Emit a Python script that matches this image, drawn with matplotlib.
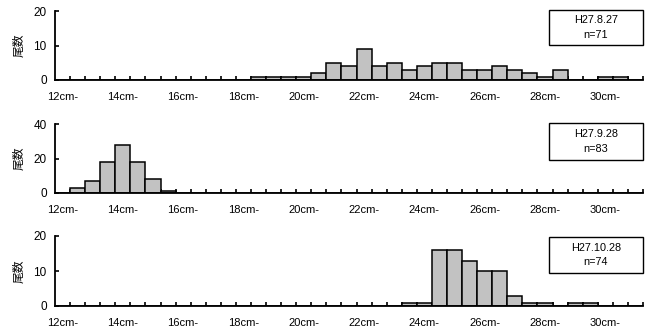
import matplotlib
matplotlib.use("Agg")
import matplotlib.pyplot as plt
import numpy as np

plt.rcParams['font.family'] = ['Liberation Sans', 'Noto Sans CJK JP', 'DejaVu Sans']

# Size classes: 12.0cm to 31.0cm in 0.5cm steps (39 classes)
size_classes = [12.0 + 0.5 * i for i in range(39)]
tick_labels = ["12cm-", "14cm-", "16cm-", "18cm-", "20cm-", "22cm-", "24cm-", "26cm-", "28cm-", "30cm-"]

counts_aug = [0, 0, 0, 0, 0, 0, 0, 0, 0, 0, 0, 0, 0, 1, 1, 1, 1, 2, 5, 4,
              9, 4, 5, 3, 4, 5, 5, 3, 3, 4, 3, 2, 1, 3, 0, 0, 1, 1, 0]
counts_sep = [0, 3, 7, 18, 28, 18, 8, 1, 0, 0, 0, 0, 0, 0, 0, 0, 0, 0, 0, 0,
              0, 0, 0, 0, 0, 0, 0, 0, 0, 0, 0, 0, 0, 0, 0, 0, 0, 0, 0]
counts_oct = [0, 0, 0, 0, 0, 0, 0, 0, 0, 0, 0, 0, 0, 0, 0, 0, 0, 0, 0, 0,
              0, 0, 0, 1, 1, 16, 16, 13, 10, 10, 3, 1, 1, 0, 1, 1, 0, 0, 0]

panel_titles = ["H27.8.27\nn=71", "H27.9.28\nn=83", "H27.10.28\nn=74"]
panel_ymax = [20, 40, 20]
panel_yticks = [[0, 10, 20], [0, 20, 40], [0, 10, 20]]
ylabel = "尾数"

W, H = 654, 334
fig = plt.figure(figsize=(W / 100, H / 100), dpi=100)

# pixel geometry (left, right, bottom(zero line), top(max line))
geoms = [(55, 643, 80, 11), (55, 643, 192.7, 124.3), (55, 643, 306, 236)]
boxes = [(549, 643, 10, 45), (549, 643, 123, 160), (549, 643, 237, 273)]
all_counts = [counts_aug, counts_sep, counts_oct]

n = len(size_classes)
x = np.arange(n) + 0.5

for k in range(3):
    l, r, b, t = geoms[k]
    ax = fig.add_axes([l / W, 1 - b / H, (r - l) / W, (b - t) / H])
    ax.bar(x, all_counts[k], width=1.0, facecolor='#c2c2c2', edgecolor='black',
           linewidth=1.1, zorder=2)
    ax.set_xlim(0, n)
    ax.set_ylim(0, panel_ymax[k])
    for s in ['top', 'right']:
        ax.spines[s].set_visible(False)
    for s in ['left', 'bottom']:
        ax.spines[s].set_linewidth(1.3)
        ax.spines[s].set_zorder(3)
    ax.set_yticks(panel_yticks[k])
    ax.tick_params(axis='y', direction='in', length=3, width=1.2, labelsize=8.5, pad=6)
    # x: major ticks at class boundaries, labels at every 4th class centre
    ax.set_xticks(np.arange(1, n + 1))
    ax.tick_params(axis='x', which='major', direction='in', length=3, width=1.2, labelbottom=False)
    ax.set_xticks(x[::4], minor=True)
    ax.set_xticklabels(tick_labels, minor=True)
    ax.tick_params(axis='x', which='minor', length=0, labelsize=8, pad=9)
    ax.set_ylabel(ylabel, family=['Noto Sans CJK JP'], fontsize=8.5)
    ax.yaxis.set_label_coords(-30 / (r - l), 0.5)

    bl, br, bt, bb = boxes[k]
    fig.patches.append(plt.Rectangle((bl / W, 1 - bb / H), (br - bl) / W, (bb - bt) / H,
                                     transform=fig.transFigure, facecolor='white',
                                     edgecolor='black', linewidth=1.0, zorder=5))
    fig.text((bl + br) / 2 / W, 1 - (bt + bb) / 2 / H, panel_titles[k], ha='center',
             va='center', fontsize=7.8, linespacing=1.55, zorder=6)

fig.savefig("out.png", dpi=100)
